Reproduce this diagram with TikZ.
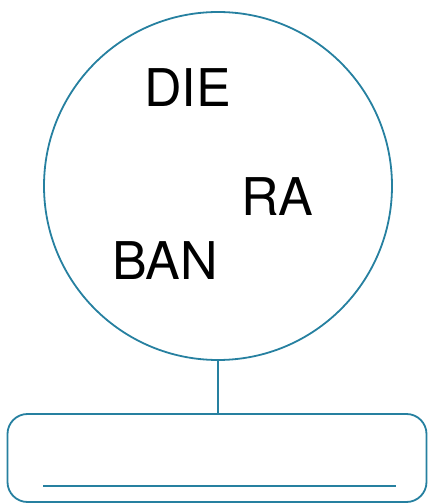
\documentclass[tikz,border=0pt]{standalone}
\usepackage{fontspec}
\setmainfont{TeX Gyre Heros}
\usepackage{xcolor}
\usepackage{tikz}
\usetikzlibrary{positioning}
\definecolor{rimblue}{RGB}{38,128,160}

\begin{document}
\begin{tikzpicture}[x=1pt,y=1pt,
  rim/.style={draw=rimblue,line width=1.8pt},
  syl/.style={anchor=base west,inner sep=0pt,font=\fontsize{52}{60}\selectfont}]
\useasboundingbox (0,0) rectangle (428,504);
\node[rim,circle,minimum size=348pt,inner sep=0pt] (bubble) at (218,318) {};
\node[syl] (die) at (144,397) {DIE};
\node[syl] (ra) at (241,288) {RA};
\node[syl] (ban) at (112,224) {BAN};
\node[rim,rectangle,rounded corners=20pt,minimum width=419pt,minimum height=88pt,inner sep=0pt] (answer) at (217,46) {};
\draw[rim] (bubble.south) -- (bubble.south |- answer.north);
\coordinate (lineL) at (43,18);
\coordinate (lineR) at (396,18);
\draw[rim] (lineL) -- (lineR);
\end{tikzpicture}
\end{document}
